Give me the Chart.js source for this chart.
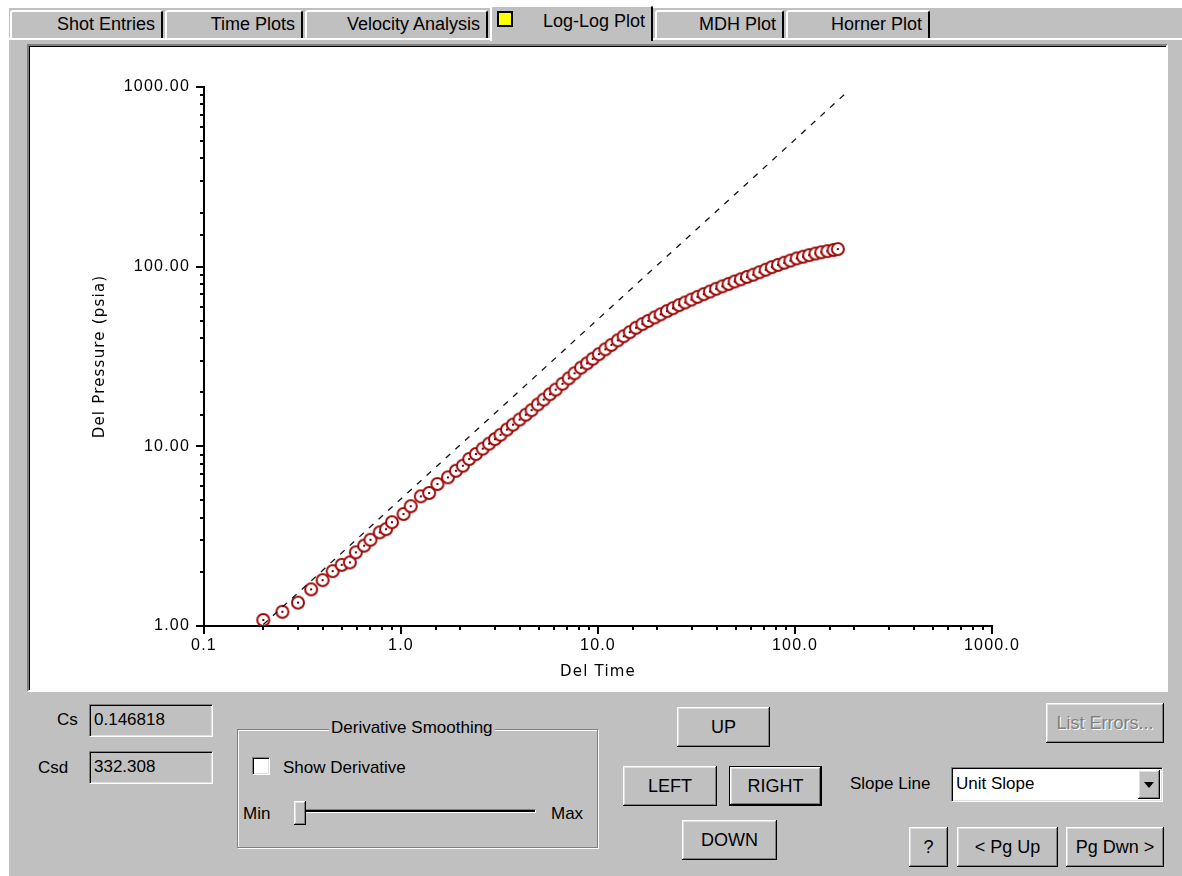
<!DOCTYPE html>
<html><head><meta charset="utf-8">
<script src="https://cdn.jsdelivr.net/npm/chart.js@4.4.1/dist/chart.umd.min.js"></script>
<style>
html,body{margin:0;padding:0;background:#fff;}
body{width:1182px;height:876px;position:relative;overflow:hidden;font-family:"Liberation Sans",Arial,sans-serif;font-size:17px;color:#000;}
.abs{position:absolute;}
#gray{left:9px;top:8px;width:1173px;height:868px;background:#c0c0c0;}
#panelTop{left:9px;top:38px;width:1173px;height:2px;background:#fff;}
.tab{position:absolute;top:10px;height:28px;background:#c0c0c0;border-top:2px solid #fff;border-left:2px solid #fff;border-right:2px solid #000;box-sizing:border-box;text-align:right;padding-right:6px;line-height:25px;font-size:18px;border-top-left-radius:3px;border-top-right-radius:3px;}
.tab.sel{top:5px;height:36px;z-index:2;line-height:29px;}
#frame{left:27px;top:44px;width:1141px;height:648px;box-sizing:border-box;background:#fff;border-top:2px solid #808080;border-left:2px solid #808080;border-right:2px solid #fff;border-bottom:2px solid #fff;box-shadow:inset 1px 1px 0 #000;}
#chartBox{left:32px;top:47px;width:1132px;height:641px;}
.lbl{position:absolute;white-space:nowrap;line-height:20px;}
.tbox{position:absolute;box-sizing:border-box;background:#c0c0c0;border-top:1px solid #808080;border-left:1px solid #808080;border-right:1px solid #fff;border-bottom:1px solid #fff;box-shadow:inset 1px 1px 0 #000, inset -1px -1px 0 #dfdfdf;padding-left:4px;line-height:30px;}
.btn{position:absolute;box-sizing:border-box;background:#c0c0c0;display:flex;align-items:center;justify-content:center;box-shadow:inset -1px -1px 0 #000, inset 1px 1px 0 #fff, inset -2px -2px 0 #808080, inset 2px 2px 0 #dfdfdf;font-size:18px;}
.btn.def{border:1px solid #000;}
.btn.dis{color:#808080;text-shadow:1px 1px 0 #fff;}
#group{left:237px;top:729px;width:361px;height:119px;box-sizing:border-box;border:1px solid #808080;box-shadow:1px 1px 0 #fff, inset 1px 1px 0 #fff;}
#groupTitle{left:329px;top:718px;background:#c0c0c0;padding:0 2px;}
#check{left:252px;top:757px;width:18px;height:18px;box-sizing:border-box;background:#fff;border-top:1px solid #808080;border-left:1px solid #808080;border-right:1px solid #fff;border-bottom:1px solid #fff;box-shadow:inset 1px 1px 0 #000, inset -1px -1px 0 #dfdfdf;}
#track{left:300px;top:809px;width:236px;height:4px;box-sizing:border-box;border-top:1px solid #808080;border-left:1px solid #808080;border-right:1px solid #fff;border-bottom:1px solid #fff;background:#000;}
#thumb{left:294px;top:801px;width:12px;height:24px;}
#combo{left:951px;top:767px;width:212px;height:35px;box-sizing:border-box;background:#fff;border-top:1px solid #808080;border-left:1px solid #808080;border-right:1px solid #fff;border-bottom:1px solid #fff;box-shadow:inset 1px 1px 0 #000, inset -1px -1px 0 #dfdfdf;padding-left:4px;line-height:32px;}
#arrow{left:1138px;top:770px;width:22px;height:29px;}
#tri{width:0;height:0;border-left:5px solid transparent;border-right:5px solid transparent;border-top:6px solid #000;}
</style></head>
<body>
<div class="abs" id="gray"></div>
<div class="abs" id="panelTop"></div>
<div class="tab" style="left:10px;width:153px;">Shot Entries</div>
<div class="tab" style="left:165px;width:138px;">Time Plots</div>
<div class="tab" style="left:305px;width:183px;">Velocity Analysis</div>
<div class="tab sel" style="left:490px;width:163px;"><span style="position:absolute;left:5px;top:4px;width:12px;height:12px;background:#ffff00;border:2px solid #000;"></span>Log-Log Plot</div>
<div class="tab" style="left:655px;width:129px;">MDH Plot</div>
<div class="tab" style="left:786px;width:144px;">Horner Plot</div>

<div class="abs" id="frame"></div>
<div class="abs" id="chartBox"><canvas id="c" width="1132" height="641"></canvas></div>

<div class="lbl" style="left:57px;top:710px;">Cs</div>
<div class="tbox" style="left:89px;top:704px;width:124px;height:33px;">0.146818</div>
<div class="lbl" style="left:38px;top:758px;">Csd</div>
<div class="tbox" style="left:89px;top:751px;width:124px;height:33px;">332.308</div>

<div class="abs" id="group"></div>
<div class="lbl" id="groupTitle">Derivative Smoothing</div>
<div class="abs" id="check"></div>
<div class="lbl" style="left:283px;top:758px;">Show Derivative</div>
<div class="lbl" style="left:243px;top:804px;">Min</div>
<div class="abs" id="track"></div>
<div class="btn" id="thumb"></div>
<div class="lbl" style="left:551px;top:804px;">Max</div>

<div class="btn" style="left:677px;top:707px;width:93px;height:40px;">UP</div>
<div class="btn" style="left:623px;top:766px;width:94px;height:40px;">LEFT</div>
<div class="btn def" style="left:729px;top:766px;width:93px;height:40px;">RIGHT</div>
<div class="btn" style="left:682px;top:820px;width:95px;height:40px;">DOWN</div>

<div class="btn dis" style="left:1046px;top:703px;width:118px;height:40px;">List Errors...</div>
<div class="lbl" style="left:850px;top:774px;">Slope Line</div>
<div class="abs" id="combo">Unit Slope</div>
<div class="btn" id="arrow"><div id="tri"></div></div>
<div class="btn" style="left:909px;top:827px;width:39px;height:40px;">?</div>
<div class="btn" style="left:957px;top:827px;width:101px;height:40px;">&lt; Pg Up</div>
<div class="btn" style="left:1066px;top:827px;width:98px;height:40px;">Pg Dwn &gt;</div>

<script>
// ---- data ----
const timeValues = [0.20,0.25,0.30,0.35,0.40,0.45,0.50,0.55,0.59,0.65,0.70,0.78,0.84,0.90,1.03,1.12,1.26,1.39,1.53,1.73,1.90,2.06,2.22,2.40,
  2.6,2.8,3.0,3.2,3.45,3.7,4.0,4.3,4.6,4.95,5.3,5.7,6.1,6.6,7.1,7.6,8.2,8.8,9.4,10.1,10.9,11.7,12.6,13.5,14.5,15.6,16.8,18.0,19.4,20.8,
  22.4,24.0,25.8,27.7,29.8,32.0,34.4,37.0,39.8,42.8,46.0,49.4,53.1,57.1,61.4,66.0,71.0,76.3,82.0,88.2,94.8,102,110,118,127,136,146,157,165];
const pressureValues = [1.08,1.20,1.35,1.60,1.80,2.02,2.19,2.26,2.57,2.80,3.02,3.32,3.46,3.78,4.20,4.64,5.27,5.50,6.17,6.72,7.31,7.80,8.50,9.06,
  9.71,10.35,10.97,11.6,12.4,13.2,14.1,15.0,15.9,17.1,18.2,19.5,20.7,22.3,23.9,25.5,27.4,29.0,30.7,32.6,34.7,36.7,38.9,41.0,43.2,45.7,47.9,49.9,52.2,54.3,
  56.6,58.7,61.1,63.2,65.6,67.9,70.3,72.7,75.3,77.7,80.2,82.7,85.1,87.7,90.2,93.1,96.2,99.4,102.3,105.2,108.1,111.2,113.6,115.9,118.3,120.2,122.0,123.9,125.3];
const slopeTimes = [0.2, 182];
const slopePressures = [1.02, 928];
const xTickLabels = ['0.1','1.0','10.0','100.0','1000.0'];
const yTickLabels = ['1.00','10.00','100.00','1000.00'];
const xAxisTitle = 'Del Time';
const yAxisTitle = 'Del Pressure (psia)';

function isPow10(v){const e=Math.log10(v);return Math.abs(e-Math.round(e))<1e-6;}
function powLabel(v, labels, minExp){
  if(!isPow10(v)) return '';
  const i=Math.round(Math.log10(v))-minExp;
  return labels[i]!==undefined?labels[i]:'';
}
function makeMarker(){
  const c=document.createElement('canvas');c.width=16;c.height=16;
  const g=c.getContext('2d');
  g.beginPath();g.arc(8,8,6,0,Math.PI*2);g.fillStyle='#ffffff';g.fill();
  g.lineWidth=2;g.strokeStyle='#9c0a0a';g.stroke();
  g.fillStyle='#6a0000';g.fillRect(7,7,2,2);
  return c;
}
const spacingPlugin={id:'spacing',beforeDraw(chart){chart.ctx.letterSpacing='1.2px';}};
const tickPlugin={id:'tickMarks',afterDraw(chart){
  const ctx=chart.ctx,xs=chart.scales.x,ys=chart.scales.y,a=chart.chartArea;
  ctx.save();ctx.strokeStyle='#000';ctx.lineWidth=2;
  xs.ticks.forEach(t=>{const px=Math.round(xs.getPixelForValue(t.value));const len=isPow10(t.value)?8:4;
    ctx.beginPath();ctx.moveTo(px,a.bottom);ctx.lineTo(px,a.bottom+len);ctx.stroke();});
  ys.ticks.forEach(t=>{const py=Math.round(ys.getPixelForValue(t.value));const len=isPow10(t.value)?8:4;
    ctx.beginPath();ctx.moveTo(a.left,py);ctx.lineTo(a.left-len,py);ctx.stroke();});
  ctx.restore();
}};
const tickFont={family:'"Liberation Sans", Arial, sans-serif',size:16};
const titleFont={family:'"DejaVu Sans", sans-serif',size:15};
new Chart(document.getElementById('c'),{
  type:'scatter',
  data:{datasets:[
    {label:'Unit Slope',data:slopeTimes.map((t,i)=>({x:t,y:slopePressures[i]})),showLine:true,borderColor:'#111',borderWidth:1.3,borderDash:[6,7],pointRadius:0,fill:false,order:0},
    {label:'Del Pressure',data:timeValues.map((t,i)=>({x:t,y:pressureValues[i]})),showLine:false,pointStyle:makeMarker(),pointRadius:6.5,borderColor:'#9c0a0a',backgroundColor:'#fff',order:1}
  ]},
  options:{
    responsive:false,animation:false,devicePixelRatio:1,
    layout:{padding:{left:0,top:40,right:172,bottom:0}},
    plugins:{legend:{display:false},tooltip:{enabled:false}},
    scales:{
      x:{type:'logarithmic',min:0.1,max:1000,position:'bottom',
        border:{display:true,color:'#000',width:2},
        grid:{display:true,drawOnChartArea:false,drawTicks:true,tickLength:8,tickColor:'rgba(0,0,0,0)'},
        ticks:{autoSkip:false,maxRotation:0,minRotation:0,padding:2,color:'#000',font:tickFont,callback:(v)=>powLabel(v,xTickLabels,-1)},
        title:{display:true,text:xAxisTitle,color:'#000',font:titleFont,padding:{top:0,bottom:7}},
        afterFit:(s)=>{s.height=62;}
      },
      y:{type:'logarithmic',min:1,max:1000,position:'left',
        border:{display:true,color:'#000',width:2},
        grid:{display:true,drawOnChartArea:false,drawTicks:true,tickLength:8,tickColor:'rgba(0,0,0,0)'},
        ticks:{autoSkip:false,padding:6,color:'#000',font:tickFont,callback:(v)=>powLabel(v,yTickLabels,0)},
        title:{display:true,text:yAxisTitle,color:'#000',font:titleFont,padding:{top:59,bottom:0}},
        afterFit:(s)=>{s.width=172;}
      }
    }
  },
  plugins:[spacingPlugin,tickPlugin]
});
</script>
</body></html>
